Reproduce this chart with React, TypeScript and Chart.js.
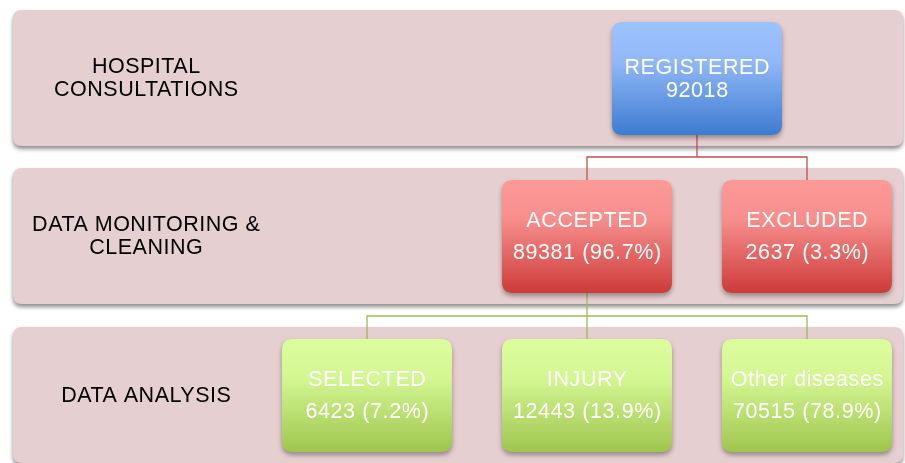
import React, { useEffect, useRef } from "react";
import { Chart, registerables } from "chart.js";

Chart.register(...registerables);

// ---- data ----
const stageLabels = [["HOSPITAL", "CONSULTATIONS"], ["DATA MONITORING &", "CLEANING"], ["DATA ANALYSIS"]];
const nodeNames = ["REGISTERED", "ACCEPTED", "EXCLUDED", "SELECTED", "INJURY", "Other diseases"];
const nodeCounts = [92018, 89381, 2637, 6423, 12443, 70515];
const nodePercents: (number | null)[] = [null, 96.7, 3.3, 7.2, 13.9, 78.9];
const nodeParents = [-1, 0, 0, 1, 1, 1];
const nodeStages = [0, 1, 1, 2, 2, 2];

// ---- layout (positions / sizes, in scale units) ----
const LAYOUT = {
  width: 905,
  height: 463,
  panelLeft: 13,
  panelRight: 903,
  panelTops: [10, 168, 327],
  panelHeight: 136,
  panelRadius: 9,
  stageLabelX: 146,
  nodeColumns: [1.5, 1, 2, 0, 1, 2],
  colX0: 367,
  colStep: 220,
  nodeOffsetTop: 12,
  nodeW: 170,
  nodeH: 113,
  nodeRadius: 11,
  busGap: 23,
};

const STYLE = {
  panelFill: "#e6cfd0",
  font: '"Liberation Sans", Arial, Helvetica, sans-serif',
  stageFontSize: 21.5,
  nodeFontSize: 21.5,
  stageColors: [
    ["#9dc3fd", "#91b8f7", "#3d7bd0"],
    ["#fd9a98", "#f68e8c", "#cd3b39"],
    ["#dcfd9e", "#d3f692", "#9fc54f"],
  ],
  connectorColors: ["#c0504d", "#c0504d", "#9bbb59"],
};

function nodeBox(i: number) {
  const cx = LAYOUT.colX0 + LAYOUT.nodeColumns[i] * LAYOUT.colStep;
  const top = LAYOUT.panelTops[nodeStages[i]] + LAYOUT.nodeOffsetTop;
  return { cx, left: cx - LAYOUT.nodeW / 2, top, bottom: top + LAYOUT.nodeH, right: cx + LAYOUT.nodeW / 2 };
}

function buildConnectorDatasets() {
  const sets: any[] = [];
  nodeNames.forEach((_, p) => {
    const kids = nodeParents.map((par, i) => (par === p ? i : -1)).filter((i) => i >= 0);
    if (!kids.length) return;
    const pb = nodeBox(p);
    const childTop = nodeBox(kids[0]).top;
    const busY = childTop - LAYOUT.busGap;
    const color = STYLE.connectorColors[nodeStages[kids[0]]];
    const xs = kids.map((k) => nodeBox(k).cx);
    const minX = Math.min(...xs);
    const maxX = Math.max(...xs);
    const mk = (pts: { x: number; y: number }[]) => ({
      data: pts,
      showLine: true,
      pointRadius: 0,
      borderColor: color,
      borderWidth: 1.3,
      fill: false,
      tension: 0,
    });
    sets.push(mk([{ x: pb.cx, y: pb.bottom }, { x: pb.cx, y: busY }]));
    sets.push(
      mk([
        { x: minX, y: childTop },
        { x: minX, y: busY },
        { x: maxX, y: busY },
        { x: maxX, y: childTop },
      ])
    );
    xs.forEach((x) => {
      if (x !== minX && x !== maxX) sets.push(mk([{ x, y: busY }, { x, y: childTop }]));
    });
  });
  return sets;
}

function rr(ctx: CanvasRenderingContext2D, x: number, y: number, w: number, h: number, r: number) {
  ctx.beginPath();
  ctx.moveTo(x + r, y);
  ctx.lineTo(x + w - r, y);
  ctx.quadraticCurveTo(x + w, y, x + w, y + r);
  ctx.lineTo(x + w, y + h - r);
  ctx.quadraticCurveTo(x + w, y + h, x + w - r, y + h);
  ctx.lineTo(x + r, y + h);
  ctx.quadraticCurveTo(x, y + h, x, y + h - r);
  ctx.lineTo(x, y + r);
  ctx.quadraticCurveTo(x, y, x + r, y);
  ctx.closePath();
}

function drawSpacedText(ctx: CanvasRenderingContext2D, text: string, cx: number, y: number, spacing: number) {
  const anyCtx = ctx as any;
  if ("letterSpacing" in anyCtx) {
    anyCtx.letterSpacing = `${spacing}px`;
    const w = ctx.measureText(text).width - spacing;
    ctx.textAlign = "left";
    ctx.fillText(text, cx - w / 2, y);
    anyCtx.letterSpacing = "0px";
  } else {
    ctx.textAlign = "center";
    ctx.fillText(text, cx, y);
  }
}

const flowPlugin = {
  id: "flowPlugin",
  beforeDatasetsDraw(chart: any) {
    const { ctx, scales } = chart;
    const X = (v: number) => scales.x.getPixelForValue(v);
    const Y = (v: number) => scales.y.getPixelForValue(v);
    ctx.save();
    LAYOUT.panelTops.forEach((t, s) => {
      const x0 = X(LAYOUT.panelLeft);
      const x1 = X(LAYOUT.panelRight);
      const y0 = Y(t);
      const y1 = Y(t + LAYOUT.panelHeight);
      ctx.save();
      ctx.shadowColor = "rgba(0,0,0,0.45)";
      ctx.shadowBlur = 4;
      ctx.shadowOffsetY = 3;
      ctx.shadowOffsetX = 0;
      rr(ctx, x0, y0, x1 - x0, y1 - y0, LAYOUT.panelRadius);
      ctx.fillStyle = STYLE.panelFill;
      ctx.fill();
      ctx.restore();
      const lines = stageLabels[s];
      const size = STYLE.stageFontSize;
      ctx.font = `${size}px ${STYLE.font}`;
      ctx.fillStyle = "#000000";
      ctx.textBaseline = "alphabetic";
      const cy = (y0 + y1) / 2 - 1;
      const gap = 23;
      lines.forEach((ln, k) => {
        const c = cy + (k - (lines.length - 1) / 2) * gap;
        drawSpacedText(ctx, ln, X(LAYOUT.stageLabelX), c + (size * 0.716) / 2, 0.5);
      });
    });
    ctx.restore();
  },
  afterDatasetsDraw(chart: any) {
    const { ctx, scales } = chart;
    const X = (v: number) => scales.x.getPixelForValue(v);
    const Y = (v: number) => scales.y.getPixelForValue(v);
    ctx.save();
    nodeNames.forEach((name, i) => {
      const b = nodeBox(i);
      const x0 = X(b.left);
      const x1 = X(b.right);
      const y0 = Y(b.top);
      const y1 = Y(b.bottom);
      const cols = STYLE.stageColors[nodeStages[i]];
      const g = ctx.createLinearGradient(0, y0, 0, y1);
      g.addColorStop(0, cols[0]);
      g.addColorStop(0.35, cols[1]);
      g.addColorStop(1, cols[2]);
      ctx.save();
      ctx.shadowColor = "rgba(0,0,0,0.35)";
      ctx.shadowBlur = 5;
      ctx.shadowOffsetY = 3;
      rr(ctx, x0, y0, x1 - x0, y1 - y0, LAYOUT.nodeRadius);
      ctx.fillStyle = g;
      ctx.fill();
      ctx.restore();
      const pct = nodePercents[i];
      const second = pct === null ? `${nodeCounts[i]}` : `${nodeCounts[i]} (${pct}%)`;
      const lines = [name, second];
      const size = STYLE.nodeFontSize;
      const gap = pct === null ? 23 : 32;
      ctx.font = `${size}px ${STYLE.font}`;
      ctx.fillStyle = "#ffffff";
      ctx.textBaseline = "alphabetic";
      const cy = (y0 + y1) / 2 - 1;
      lines.forEach((ln, k) => {
        const c = cy + (k - 0.5) * gap;
        drawSpacedText(ctx, ln, (x0 + x1) / 2, c + (size * 0.716) / 2, 0.6);
      });
    });
    ctx.restore();
  },
};

export default function App() {
  const ref = useRef<HTMLCanvasElement | null>(null);
  useEffect(() => {
    if (!ref.current) return;
    const chart = new Chart(ref.current, {
      type: "scatter",
      data: { datasets: buildConnectorDatasets() },
      options: {
        responsive: false,
        animation: false,
        events: [],
        layout: { padding: 0 },
        scales: {
          x: { type: "linear", min: 0, max: LAYOUT.width, display: false },
          y: { type: "linear", min: 0, max: LAYOUT.height, reverse: true, display: false },
        },
        plugins: { legend: { display: false }, tooltip: { enabled: false }, title: { display: false } },
      } as any,
      plugins: [flowPlugin],
    });
    return () => chart.destroy();
  }, []);
  return (
    <div style={{ position: "fixed", left: 0, top: 0, width: 905, height: 463, background: "#ffffff" }}>
      <canvas ref={ref} width={905} height={463} style={{ display: "block", width: 905, height: 463 }} />
    </div>
  );
}
